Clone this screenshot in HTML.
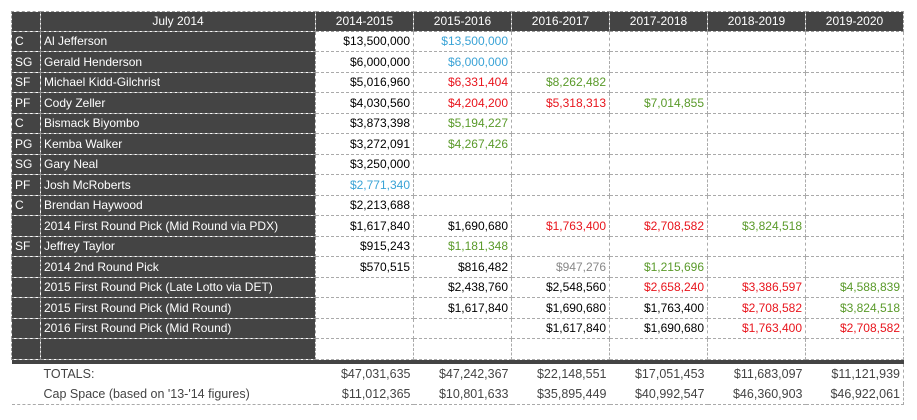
<!DOCTYPE html>
<html><head><style>
body{margin:0;background:#fff;font-family:"Liberation Sans",sans-serif;font-size:12px;}
table{position:absolute;left:11px;top:11px;border-collapse:collapse;table-layout:fixed;width:892px;}
td{height:19.5px;padding:0 3px;border:1px dashed #aaa;white-space:nowrap;overflow:hidden;text-align:right;color:#000;}
td.p,td.n{background:#444;color:#fff;text-align:left;border-color:#999;}
tr.h td{background:#444;color:#fff;text-align:center;border-color:#999;height:18.5px;}
.b{color:#3aa3d6}.r{color:#e8141c}.g{color:#5a9a2a}.y{color:#888}
tr.bar td{height:4px;padding:0;background:#444;border:none;}
tr.t td{background:#fff;color:#444;border:none;height:20px;font-size:12.5px;}
tr.t td.n{background:#fff;color:#444;}
tr.t.last td{border-bottom:1px dashed #aaa;}
tr.t td:last-child{border-right:1px dashed #aaa;}
</style></head><body>
<table>
<colgroup><col style="width:29px"><col style="width:275px"><col style="width:98px"><col style="width:98px"><col style="width:98px"><col style="width:98px"><col style="width:98px"><col style="width:98px"></colgroup>
<tr class="h"><td></td><td>July 2014</td><td>2014-2015</td><td>2015-2016</td><td>2016-2017</td><td>2017-2018</td><td>2018-2019</td><td>2019-2020</td></tr>
<tr><td class="p">C</td><td class="n">Al Jefferson</td><td>$13,500,000</td><td class="b">$13,500,000</td><td></td><td></td><td></td><td></td></tr>
<tr><td class="p">SG</td><td class="n">Gerald Henderson</td><td>$6,000,000</td><td class="b">$6,000,000</td><td></td><td></td><td></td><td></td></tr>
<tr><td class="p">SF</td><td class="n">Michael Kidd-Gilchrist</td><td>$5,016,960</td><td class="r">$6,331,404</td><td class="g">$8,262,482</td><td></td><td></td><td></td></tr>
<tr><td class="p">PF</td><td class="n">Cody Zeller</td><td>$4,030,560</td><td class="r">$4,204,200</td><td class="r">$5,318,313</td><td class="g">$7,014,855</td><td></td><td></td></tr>
<tr><td class="p">C</td><td class="n">Bismack Biyombo</td><td>$3,873,398</td><td class="g">$5,194,227</td><td></td><td></td><td></td><td></td></tr>
<tr><td class="p">PG</td><td class="n">Kemba Walker</td><td>$3,272,091</td><td class="g">$4,267,426</td><td></td><td></td><td></td><td></td></tr>
<tr><td class="p">SG</td><td class="n">Gary Neal</td><td>$3,250,000</td><td></td><td></td><td></td><td></td><td></td></tr>
<tr><td class="p">PF</td><td class="n">Josh McRoberts</td><td class="b">$2,771,340</td><td></td><td></td><td></td><td></td><td></td></tr>
<tr><td class="p">C</td><td class="n">Brendan Haywood</td><td>$2,213,688</td><td></td><td></td><td></td><td></td><td></td></tr>
<tr><td class="p"></td><td class="n">2014 First Round Pick (Mid Round via PDX)</td><td>$1,617,840</td><td>$1,690,680</td><td class="r">$1,763,400</td><td class="r">$2,708,582</td><td class="g">$3,824,518</td><td></td></tr>
<tr><td class="p">SF</td><td class="n">Jeffrey Taylor</td><td>$915,243</td><td class="g">$1,181,348</td><td></td><td></td><td></td><td></td></tr>
<tr><td class="p"></td><td class="n">2014 2nd Round Pick</td><td>$570,515</td><td>$816,482</td><td class="y">$947,276</td><td class="g">$1,215,696</td><td></td><td></td></tr>
<tr><td class="p"></td><td class="n">2015 First Round Pick (Late Lotto via DET)</td><td></td><td>$2,438,760</td><td>$2,548,560</td><td class="r">$2,658,240</td><td class="r">$3,386,597</td><td class="g">$4,588,839</td></tr>
<tr><td class="p"></td><td class="n">2015 First Round Pick (Mid Round)</td><td></td><td>$1,617,840</td><td>$1,690,680</td><td>$1,763,400</td><td class="r">$2,708,582</td><td class="g">$3,824,518</td></tr>
<tr><td class="p"></td><td class="n">2016 First Round Pick (Mid Round)</td><td></td><td></td><td>$1,617,840</td><td>$1,690,680</td><td class="r">$1,763,400</td><td class="r">$2,708,582</td></tr>
<tr><td class="p"></td><td class="n"></td><td></td><td></td><td></td><td></td><td></td><td></td></tr>
<tr class="bar"><td></td><td></td><td></td><td></td><td></td><td></td><td></td><td></td></tr>
<tr class="t"><td></td><td class="n">TOTALS:</td><td>$47,031,635</td><td>$47,242,367</td><td>$22,148,551</td><td>$17,051,453</td><td>$11,683,097</td><td>$11,121,939</td></tr>
<tr class="t last"><td></td><td class="n">Cap Space (based on '13-'14 figures)</td><td>$11,012,365</td><td>$10,801,633</td><td>$35,895,449</td><td>$40,992,547</td><td>$46,360,903</td><td>$46,922,061</td></tr>
</table>
</body></html>
